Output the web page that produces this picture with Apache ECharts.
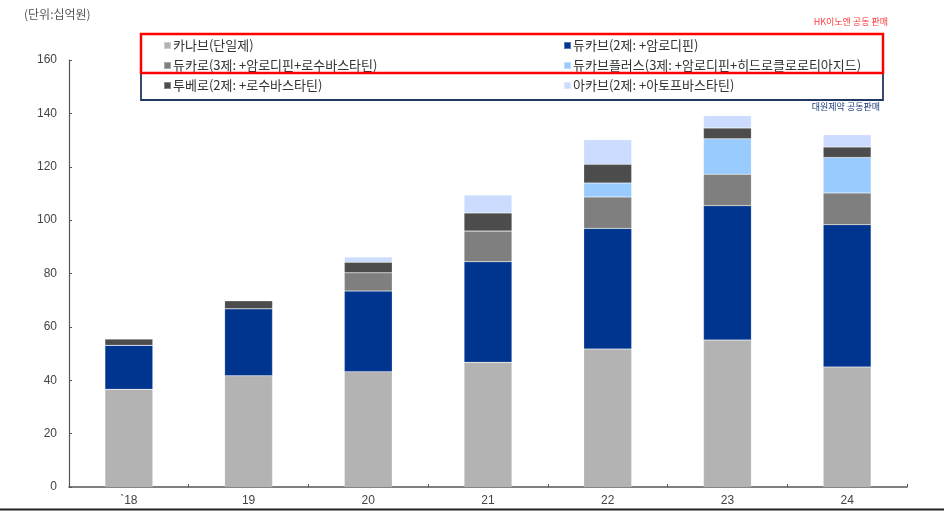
<!DOCTYPE html>
<html><head><meta charset="utf-8">
<script src="https://cdn.jsdelivr.net/npm/echarts@6/dist/echarts.min.js"></script>
<style>html,body{margin:0;padding:0;background:#fff}#c{width:944px;height:511px}</style>
</head><body><div id="c"></div>
<script>
const categories = ['`18', '19', '20', '21', '22', '23', '24'];
const kanab     = [36.6, 41.7, 43.2, 46.7, 51.7, 55.1, 45.0];
const dukarb    = [16.5, 25.1, 30.2, 37.7, 45.2, 50.3, 53.3];
const dukaro    = [0, 0, 6.9, 11.5, 11.8, 11.8, 11.9];
const dukarbPlus= [0, 0, 0, 0, 5.2, 13.3, 13.3];
const tubero    = [2.4, 3.0, 3.9, 6.8, 7.0, 4.0, 3.9];
const akarb     = [0, 0, 2.0, 6.7, 9.2, 4.6, 4.6];
const yTicks = [0, 20, 40, 60, 80, 100, 120, 140, 160];

const names = ['카나브(단일제)', '듀카브(2제: +암로디핀)', '듀카로(3제: +암로디핀+로수바스타틴)',
  '듀카브플러스(3제: +암로디핀+히드로클로로티아지드)', '투베로(2제: +로수바스타틴)', '아카브(2제: +아토프바스타틴)'];
const datas = [kanab, dukarb, dukaro, dukarbPlus, tubero, akarb];
const colors = ['#b3b3b3', '#00358f', '#7f7f7f', '#99cbff', '#4c4c4c', '#cbdcfe'];
const font = '"Noto Sans CJK KR", "Noto Sans", sans-serif';

const chart = echarts.init(document.getElementById('c'), null, {renderer: 'canvas'});
const legendCommon = {
  orient: 'vertical', icon: 'rect', itemWidth: 7, itemHeight: 7, itemGap: 7,
  textStyle: {fontFamily: font, fontSize: 13, color: '#333', padding: [0, 0, 0, -3]},
  selectedMode: false
};
chart.setOption({
  animation: false,
  textStyle: {fontFamily: font},
  grid: {left: 69, right: 37, top: 60, bottom: 24},
  legend: [
    Object.assign({left: 158, top: 34, data: [names[0], names[2], names[4]]}, legendCommon),
    Object.assign({left: 558, top: 34, data: [names[1], names[3], names[5]]}, legendCommon)
  ],
  xAxis: {
    type: 'category', data: categories,
    axisLine: {lineStyle: {color: '#555', width: 1.5}},
    axisTick: {show: true, inside: true, length: 3, lineStyle: {color: '#555'}},
    axisLabel: {color: '#444', fontSize: 12, margin: 8, fontFamily: 'Liberation Sans, Arial, sans-serif'}
  },
  yAxis: {
    type: 'value', min: 0, max: 160, interval: 20,
    splitLine: {show: false},
    axisLine: {show: true, lineStyle: {color: '#555', width: 1.2}},
    axisTick: {show: true, inside: true, length: 3, lineStyle: {color: '#555'}},
    axisLabel: {color: '#444', fontSize: 12, margin: 12, fontFamily: 'Liberation Sans, Arial, sans-serif'}
  },
  series: names.map((n, i) => ({
    name: n, type: 'bar', stack: 'total', data: datas[i], barWidth: '40%',
    itemStyle: {color: colors[i], borderColor: 'rgba(255,255,255,0.35)', borderWidth: 0.5}
  })),
  graphic: [
    {type: 'text', left: 24, top: 8, style: {text: '(단위:십억원)', font: '12px ' + font, fill: '#555'}},
    {type: 'rect', shape: {x: 141, y: 34, width: 742, height: 39}, style: {fill: 'none', stroke: '#ff0000', lineWidth: 2.5}, z: 10},
    {type: 'rect', shape: {x: 141, y: 73, width: 742, height: 27}, style: {fill: 'none', stroke: '#1f3864', lineWidth: 1.8}, z: 9},
    {type: 'text', right: 56, top: 17, style: {text: 'HK이노엔 공동 판매', font: '9px ' + font, fill: '#ff3b3b'}},
    {type: 'text', right: 64, top: 102, style: {text: '대원제약 공동판매', font: '9px ' + font, fill: '#1f3c78'}},
    {type: 'line', shape: {x1: 0, y1: 509.5, x2: 944, y2: 509.5}, style: {stroke: '#222', lineWidth: 2}}
  ]
});
</script></body></html>
